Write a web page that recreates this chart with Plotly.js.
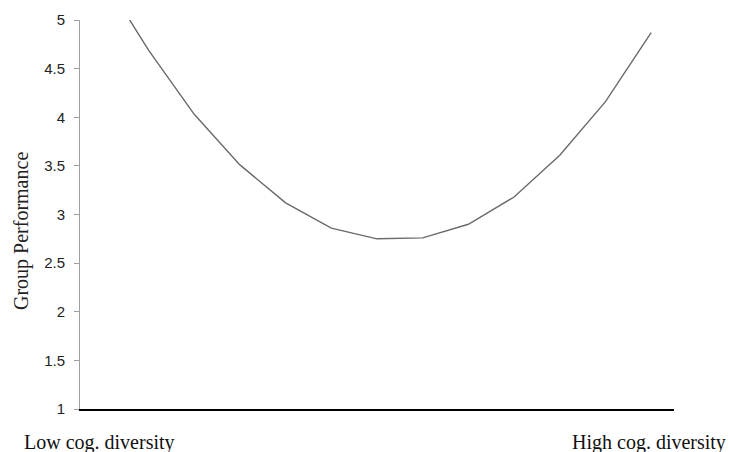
<!DOCTYPE html>
<html>
<head>
<meta charset="utf-8">
<script src="https://cdn.plot.ly/plotly-3.0.1.min.js"></script>
<style>html,body{margin:0;padding:0;background:#fff;}#chart{width:729px;height:452px;}</style>
</head>
<body>
<div id="chart"></div>
<script>
// Diversity steps (categories along the x axis, low -> high)
var diversitySteps = [1, 2, 3, 4, 5, 6, 7, 8, 9, 10, 11, 12, 13];
// Group performance
var groupPerformance = [5.44, 4.69, 4.03, 3.51, 3.12, 2.86, 2.75, 2.76, 2.90, 3.18, 3.61, 4.16, 4.87];
var yTickValues = [1, 1.5, 2, 2.5, 3, 3.5, 4, 4.5, 5];
var yTickLabels = ["1", "1.5", "2", "2.5", "3", "3.5", "4", "4.5", "5"];
var lowLabel = "Low cog. diversity";
var highLabel = "High cog. diversity";
var yTitle = "Group Performance";

var serif = "Liberation Serif, Times New Roman, serif";

var trace = {
  x: diversitySteps,
  y: groupPerformance,
  type: "scatter",
  mode: "lines",
  line: {color: "#6a6a6a", width: 1.4},
  hoverinfo: "x+y",
  showlegend: false
};

var layout = {
  width: 729,
  height: 452,
  margin: {l: 80, r: 55, t: 20, b: 43},
  paper_bgcolor: "#ffffff",
  plot_bgcolor: "#ffffff",
  showlegend: false,
  xaxis: {
    range: [0.5, 13.5],
    showticklabels: false,
    ticks: "",
    showgrid: false,
    zeroline: false,
    showline: true,
    linecolor: "#000000",
    linewidth: 1.5,
    fixedrange: true
  },
  yaxis: {
    range: [1, 5],
    tickvals: yTickValues,
    ticktext: yTickLabels,
    ticks: "outside",
    ticklen: 5,
    tickcolor: "#a0a0a0",
    tickwidth: 1,
    ticklabelstandoff: 6,
    showgrid: false,
    zeroline: false,
    showline: true,
    linecolor: "#a0a0a0",
    linewidth: 1,
    tickfont: {family: "Liberation Sans, Arial, sans-serif", size: 15, color: "#222222"},
    fixedrange: true
  },
  annotations: [
    {
      text: yTitle, xref: "paper", yref: "paper",
      x: -0.0976, y: 0.4576, xanchor: "center", yanchor: "middle",
      textangle: -90, showarrow: false,
      font: {family: serif, size: 20, color: "#222222"}
    },
    {
      text: lowLabel, xref: "paper", yref: "paper",
      x: 0.032, y: -0.085, xanchor: "center", yanchor: "middle",
      showarrow: false,
      font: {family: serif, size: 20, color: "#111111"}
    },
    {
      text: highLabel, xref: "paper", yref: "paper",
      x: 0.958, y: -0.085, xanchor: "center", yanchor: "middle",
      showarrow: false,
      font: {family: serif, size: 20, color: "#111111"}
    }
  ]
};

Plotly.newPlot("chart", [trace], layout, {displayModeBar: false, staticPlot: true});
</script>
</body>
</html>
